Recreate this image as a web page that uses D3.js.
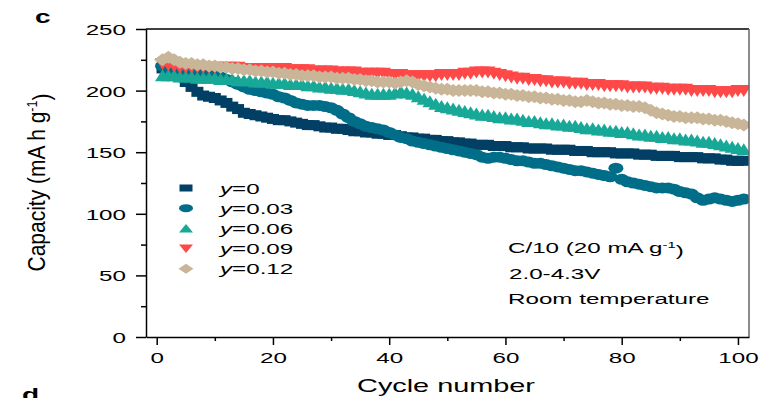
<!DOCTYPE html>
<html>
<head>
<meta charset="utf-8">
<script src="https://cdn.jsdelivr.net/npm/d3@7/dist/d3.min.js"></script>
<style>
  body { margin: 0; background: #fff; }
  svg { display: block; font-family: "Liberation Sans", Arial, sans-serif; }
</style>
</head>
<body>
<div class="capacityChart"></div>
<script>
// cycle numbers 1..101 (one marker per cycle)
const cycles = d3.range(1, 102);

const seriesNames = ["0", "0.03", "0.06", "0.09", "0.12"];
const seriesColors = ["#013f64", "#006e88", "#17a897", "#ff4848", "#c9b598"];

// capacity (mA h g-1), cycle 1..101
const capY000 = [
  218, 216, 214, 211, 207, 203, 199, 196, 195, 194,
  192, 190, 187, 185, 182, 181, 180, 179, 178, 177,
  176, 176, 175, 174, 173, 172, 172, 171, 170, 170,
  169, 169, 168, 167, 167, 166, 166, 165, 165, 164,
  164, 163, 162, 162, 161, 161, 160, 160, 159, 159,
  158, 158, 157, 157, 156, 156, 156, 155, 155, 155,
  154, 154, 154, 153, 153, 153, 153, 152, 152, 152,
  152, 151, 151, 151, 150, 150, 150, 150, 149, 149,
  149, 149, 148, 148, 148, 147, 147, 147, 147, 146,
  146, 146, 146, 145, 145, 145, 144, 144, 143, 143, 143
];
const capY003 = [
  220, 217, 216, 216, 215, 215, 214, 214, 213, 212,
  211, 209, 207, 205, 203, 201, 200, 199, 198, 197,
  195, 194, 192, 190, 189, 188, 188, 188, 187, 186,
  184, 181, 178, 175, 173, 171, 170, 169, 168, 166,
  164, 162, 161, 159, 158, 157, 156, 155, 154, 153,
  152, 151, 150, 149, 148, 146, 145, 146, 146, 145,
  144, 143, 143, 142, 141, 141, 140, 139, 138, 137,
  136, 135, 135, 134, 133, 132, 131, 130, 137, 128,
  126, 125, 124, 123, 122, 121, 121, 121, 120, 118,
  117, 116, 113, 111, 112, 113, 112, 111, 110, 111, 112
];
const capY006 = [
  212, 212, 212, 211, 211, 211, 210, 210, 210, 210,
  209, 209, 209, 208, 208, 208, 207, 207, 207, 206,
  206, 206, 205, 205, 205, 204, 204, 203, 203, 202,
  202, 201, 201, 200, 199, 198, 197, 197, 197, 197,
  198, 199, 198, 197, 195, 193, 191, 189, 187, 186,
  185, 184, 183, 182, 181, 180, 180, 179, 178, 178,
  177, 177, 176, 175, 175, 174, 173, 173, 172, 172,
  171, 171, 170, 169, 169, 168, 168, 167, 167, 166,
  166, 165, 164, 164, 163, 163, 162, 162, 161, 161,
  160, 160, 159, 158, 158, 157, 156, 155, 154, 153, 152
];
const capY009 = [
  222, 221, 220, 219, 219, 219, 219, 219, 219, 219,
  219, 219, 219, 219, 218, 218, 218, 218, 218, 218,
  218, 218, 217, 217, 217, 217, 216, 216, 216, 216,
  215, 215, 215, 215, 214, 214, 214, 214, 214, 213,
  213, 213, 212, 212, 212, 212, 212, 212, 213, 213,
  213, 213, 214, 214, 215, 215, 215, 214, 213, 212,
  211, 210, 210, 209, 209, 208, 208, 207, 207, 207,
  206, 206, 206, 205, 205, 205, 204, 204, 204, 204,
  203, 203, 203, 203, 202, 202, 202, 201, 201, 201,
  201, 200, 200, 200, 200, 199, 199, 199, 199, 200, 200
];
const capY012 = [
  225, 227, 225, 223, 222, 222, 221, 221, 220, 220,
  219, 219, 218, 218, 217, 217, 216, 216, 215, 215,
  214, 214, 213, 213, 212, 212, 212, 211, 211, 211,
  210, 210, 210, 209, 209, 208, 208, 207, 207, 207,
  206, 207, 208, 207, 205, 204, 203, 202, 201, 201,
  200, 200, 200, 200, 200, 199, 199, 198, 198, 197,
  197, 196, 196, 195, 195, 194, 194, 193, 193, 192,
  192, 191, 191, 192, 191, 190, 190, 189, 189, 188,
  188, 187, 187, 186, 184, 182, 181, 180, 179, 179,
  178, 178, 178, 177, 177, 176, 176, 175, 174, 173, 172
];
const allSeries = [capY000, capY003, capY006, capY009, capY012];

const yMajorTicks = [0, 50, 100, 150, 200, 250];
const yMinorTicks = [25, 75, 125, 175, 225];
const xMajorTicks = [0, 20, 40, 60, 80, 100];
const xMinorTicks = [10, 30, 50, 70, 90];

const noteLines = ["C/10 (20 mA g", "2.0-4.3V", "Room temperature"];

// the figure is stretched sideways, so all text gets the same x scale
const SX = 1.56;

const W = 761, H = 398;
const plotL = 146, plotR = 749, plotT = 29, plotB = 337;

const svg = d3.select(".capacityChart").append("svg")
  .attr("width", W).attr("height", H);

const x = d3.scaleLinear().domain([-1.84, 101.9]).range([plotL, plotR]);
const y = d3.scaleLinear().domain([0, 250]).range([plotB, plotT]);

// markers, one shape per series
const shapes = [
  g => g.append("rect").attr("x", -6).attr("y", -5).attr("width", 12).attr("height", 10),
  g => g.append("ellipse").attr("rx", 7.5).attr("ry", 5.5),
  g => g.append("path").attr("d", "M0,-6.5L7.5,5.5L-7.5,5.5Z"),
  g => g.append("path").attr("d", "M0,6.5L7.5,-5.5L-7.5,-5.5Z"),
  g => g.append("path").attr("d", "M0,-6.5L8.5,0L0,6.5L-8.5,0Z")
];
const legendShapes = [
  g => g.append("rect").attr("x", -6.5).attr("y", -3.5).attr("width", 13).attr("height", 7),
  g => g.append("ellipse").attr("rx", 7).attr("ry", 4),
  g => g.append("path").attr("d", "M0,-4.5L7,4L-7,4Z"),
  g => g.append("path").attr("d", "M0,4.5L7,-4L-7,-4Z"),
  g => g.append("path").attr("d", "M0,-5L7.5,0L0,5L-7.5,0Z")
];

svg.append("clipPath").attr("id", "plotClip")
  .append("rect").attr("x", plotL).attr("y", plotT)
  .attr("width", plotR - plotL).attr("height", plotB - plotT);

const plot = svg.append("g").attr("clip-path", "url(#plotClip)");

allSeries.forEach((vals, i) => {
  const pts = plot.append("g").attr("fill", seriesColors[i])
    .selectAll("g").data(cycles.map((c, k) => ({ c, v: vals[k] })))
    .enter().append("g")
    .attr("transform", d => `translate(${x(d.c)},${y(d.v)})`);
  pts.each(function () { shapes[i](d3.select(this)); });
});

// frame: top black, right grey
svg.append("line").attr("x1", plotL).attr("x2", plotR).attr("y1", plotT).attr("y2", plotT)
  .attr("stroke", "#000").attr("stroke-width", 1.5);
svg.append("line").attr("x1", plotR).attr("x2", plotR).attr("y1", plotT).attr("y2", plotB)
  .attr("stroke", "#666").attr("stroke-width", 1.5);

// axes
const yAxis = svg.append("g").attr("transform", `translate(${plotL},0)`)
  .call(d3.axisLeft(y).tickValues(yMajorTicks).tickSize(10).tickSizeOuter(0));
svg.append("g").attr("transform", `translate(${plotL},0)`)
  .call(d3.axisLeft(y).tickValues(yMinorTicks).tickSize(5).tickFormat(""))
  .select(".domain").remove();

const xAxis = svg.append("g").attr("transform", `translate(0,${plotB})`)
  .call(d3.axisBottom(x).tickValues(xMajorTicks).tickSize(8).tickSizeOuter(0));
svg.append("g").attr("transform", `translate(0,${plotB})`)
  .call(d3.axisBottom(x).tickValues(xMinorTicks).tickSize(4).tickFormat(""))
  .select(".domain").remove();

svg.selectAll(".domain, .tick line").attr("stroke", "#000").attr("stroke-width", 1.5);

yAxis.attr("font-family", null).attr("font-size", null);
xAxis.attr("font-family", null).attr("font-size", null);
yAxis.selectAll(".tick text")
  .style("font-size", "15.5px").attr("fill", "#000")
  .attr("x", -20 / SX).attr("dy", "0.36em")
  .attr("transform", `scale(${SX},1)`);
xAxis.selectAll(".tick text")
  .style("font-size", "15.5px").attr("fill", "#000")
  .attr("y", 26).attr("dy", 0)
  .attr("transform", `scale(${SX},1)`);

function stretchText(px, py, size, anchor) {
  return svg.append("text")
    .attr("transform", `translate(${px},${py}) scale(${SX},1)`)
    .attr("text-anchor", anchor)
    .style("font-size", size + "px")
    .attr("fill", "#000");
}

// axis titles
stretchText(446, 392, 18.5, "middle").text("Cycle number");

const yTitle = svg.append("text")
  .attr("transform", "translate(45,182.5) rotate(-90) scale(1,1.1)")
  .attr("text-anchor", "middle")
  .style("font-size", "21px").attr("fill", "#000");
yTitle.append("tspan").text("Capacity (mA h g");
yTitle.append("tspan").attr("dy", "-0.55em").style("font-size", "12.5px").text("-1");
yTitle.append("tspan").attr("dy", "0.55em").text(")");

// panel letters ("d" belongs to the next panel and is cut by the edge)
stretchText(35, 23, 18, "start").style("font-weight", "bold").text("c");
stretchText(22, 401, 18, "start").style("font-weight", "bold").text("d");

// legend
const legendY0 = 188, legendStep = 20.2;
seriesNames.forEach((name, i) => {
  const ly = legendY0 + i * legendStep;
  const g = svg.append("g").attr("fill", seriesColors[i])
    .attr("transform", `translate(186,${ly})`);
  legendShapes[i](g);
  const t = stretchText(220, ly + 5.5, 15.5, "start");
  t.append("tspan").style("font-style", "italic").text("y");
  t.append("tspan").text("=" + name);
});

// conditions note
const noteX = [508, 509, 508];
const noteY = [253, 279, 304];
noteLines.forEach((line, i) => {
  const t = stretchText(noteX[i], noteY[i], 15.5, "start");
  t.append("tspan").text(line);
  if (i === 0) {
    t.append("tspan").attr("dy", "-0.55em").style("font-size", "9.5px").text("-1");
    t.append("tspan").attr("dy", "0.55em").text(")");
  }
});
</script>
</body>
</html>
